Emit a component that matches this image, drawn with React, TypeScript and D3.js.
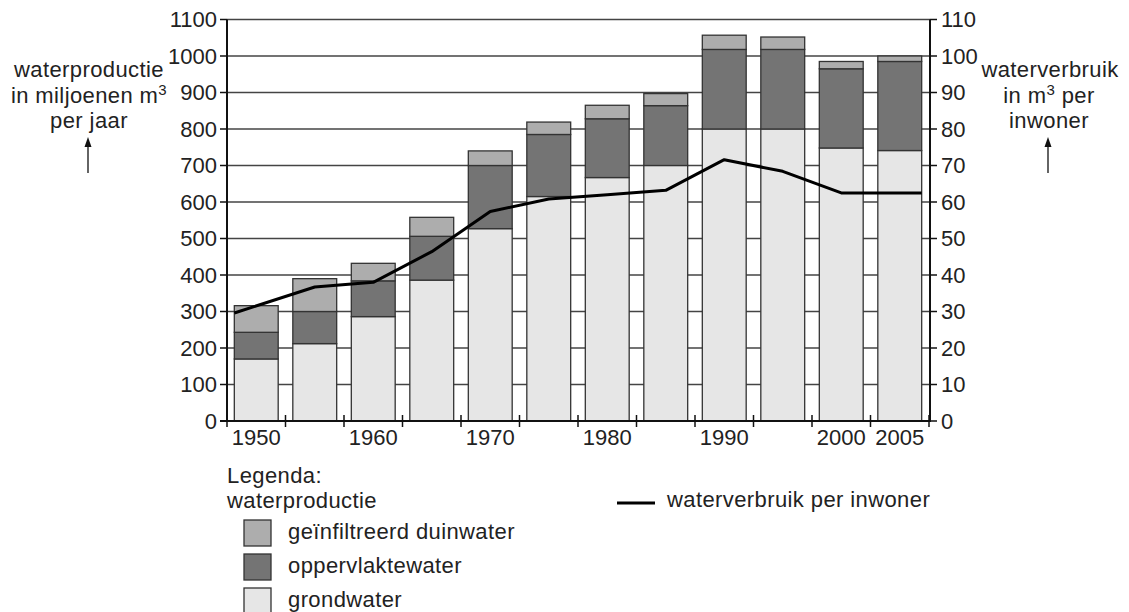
import React from "react";
import * as d3 from "d3";

const years = ["1950","1955","1960","1965","1970","1975","1980","1985","1990","1995","2000","2005"];
const grondwater = [170, 212, 286, 386, 527, 615, 667, 700, 800, 800, 748, 741];
const oppervlaktewater = [73, 88, 98, 120, 173, 170, 161, 164, 218, 218, 217, 244];
const duinwater = [73, 90, 48, 52, 40, 34, 37, 33, 39, 34, 20, 15];
const verbruik = [29.6, 36.7, 38.0, 46.4, 57.4, 60.8, 62.0, 63.2, 71.6, 68.4, 62.5, 62.5];
const leftTicks = [0,100,200,300,400,500,600,700,800,900,1000,1100];
const rightTicks = [0,10,20,30,40,50,60,70,80,90,100,110];
const xLabels = ["1950","1960","1970","1980","1990","2000","2005"];

const seriesKeys = ["grond", "opp", "duin"];
const seriesColors: Record<string, string> = { grond: "#e6e6e6", opp: "#747474", duin: "#adadad" };
const legendItems = [
  { key: "duin", label: "geïnfiltreerd duinwater" },
  { key: "opp", label: "oppervlaktewater" },
  { key: "grond", label: "grondwater" },
];

const W = 1129, H = 612;
const L = 227, R = 930, T = 19.5, B = 421;
const FONT = "'Liberation Sans', Arial, Helvetica, sans-serif";

export default function App() {
  const x = d3.scaleBand<string>().domain(years).range([L, R - 1]).paddingInner(0.25).paddingOuter(0.125);
  const y = d3.scaleLinear().domain([0, 1100]).range([B, T]);
  const y2 = d3.scaleLinear().domain([0, 110]).range([B, T]);

  const table = years.map((yr, i) => ({ year: yr, grond: grondwater[i], opp: oppervlaktewater[i], duin: duinwater[i] }));
  const stacked = d3.stack<any>().keys(seriesKeys)(table);

  const step = x.step();
  const bw = x.bandwidth();
  const linePts: [number, number][] = verbruik.map((v, i) => {
    let px = (x(years[i]) as number) + bw / 2;
    if (i === 0) px = x(years[i]) as number;
    if (i === years.length - 1) px = (x(years[i]) as number) + bw;
    return [px, y2(v)];
  });
  const line = d3.line();

  const textStyle = { fontFamily: FONT, fontSize: 22, fill: "#222" } as any;
  const lbl = { ...textStyle, letterSpacing: "0.4px" };

  return (
    <svg width={W} height={H} style={{ position: "absolute", left: 0, top: 0 }}>
      <rect width={W} height={H} fill="#fff" />
      {/* gridlines */}
      {leftTicks.filter((t) => t > 0).map((t) => (
        <line key={"g" + t} x1={L} x2={R} y1={y(t)} y2={y(t)} stroke="#444" strokeWidth={1.3} />
      ))}
      {/* bars */}
      {stacked.map((s) => (
        <g key={s.key}>
          {s.map((d, i) => (
            <rect key={i} x={x(years[i])} y={y(d[1])} width={bw} height={y(d[0]) - y(d[1])}
              fill={seriesColors[s.key]} stroke="#333" strokeWidth={1.3} />
          ))}
        </g>
      ))}
      {/* line */}
      <path d={line(linePts) as string} fill="none" stroke="#000" strokeWidth={3} strokeLinejoin="round" />
      {/* axes */}
      <line x1={L} x2={L} y1={T} y2={B + 1} stroke="#111" strokeWidth={2} />
      <line x1={R} x2={R} y1={T} y2={B + 1} stroke="#111" strokeWidth={2} />
      <line x1={L - 7} x2={R} y1={B} y2={B} stroke="#111" strokeWidth={2} />
      {leftTicks.map((t) => (
        <g key={"l" + t}>
          <line x1={L - 7} x2={L} y1={y(t)} y2={y(t)} stroke="#111" strokeWidth={1.5} />
          <text x={L - 10} y={y(t)} dy="0.36em" textAnchor="end" {...textStyle}>{t}</text>
        </g>
      ))}
      {rightTicks.map((t) => (
        <g key={"r" + t}>
          <line x1={R} x2={R + 7} y1={y2(t)} y2={y2(t)} stroke="#111" strokeWidth={1.5} />
          <text x={R + 11} y={y2(t)} dy="0.36em" textAnchor="start" {...textStyle}>{t}</text>
        </g>
      ))}
      {d3.range(years.length + 1).map((i) => (
        <line key={"xt" + i} x1={L + i * step} x2={L + i * step} y1={B - 6} y2={B + 6} stroke="#111" strokeWidth={1.5} />
      ))}
      {xLabels.map((lab) => (
        <text key={lab} x={(x(lab) as number) + bw / 2} y={445} textAnchor="middle" {...textStyle}>{lab}</text>
      ))}
      {/* left title */}
      <g>
        <text x={89} y={77} textAnchor="middle" {...lbl}>waterproductie</text>
        <text x={89} y={103} textAnchor="middle" {...lbl}>in miljoenen m<tspan fontSize={15} dy={-8}>3</tspan></text>
        <text x={89} y={128} textAnchor="middle" {...lbl}>per jaar</text>
        <line x1={88} x2={88} y1={142} y2={173} stroke="#111" strokeWidth={1.3} />
        <path d="M88,137 L84.5,147 L91.5,147 Z" fill="#111" />
      </g>
      {/* right title */}
      <g>
        <text x={1050} y={77} textAnchor="middle" {...lbl}>waterverbruik</text>
        <text x={1049} y={103} textAnchor="middle" {...lbl}>in m<tspan fontSize={15} dy={-8}>3</tspan><tspan dy={8}> per</tspan></text>
        <text x={1049} y={128} textAnchor="middle" {...lbl}>inwoner</text>
        <line x1={1048} x2={1048} y1={142} y2={173} stroke="#111" strokeWidth={1.3} />
        <path d="M1048,137 L1044.5,147 L1051.5,147 Z" fill="#111" />
      </g>
      {/* legend */}
      <text x={227} y={483} {...lbl}>Legenda:</text>
      <text x={227} y={508} {...lbl}>waterproductie</text>
      {legendItems.map((it, i) => (
        <g key={it.key}>
          <rect x={244} y={520 + i * 34} width={27} height={26} fill={seriesColors[it.key]} stroke="#333" strokeWidth={1.3} />
          <text x={288} y={539 + i * 34} {...lbl}>{it.label}</text>
        </g>
      ))}
      <line x1={617} x2={655} y1={503} y2={503} stroke="#000" strokeWidth={3} />
      <text x={667} y={507} {...lbl}>waterverbruik per inwoner</text>
    </svg>
  );
}
